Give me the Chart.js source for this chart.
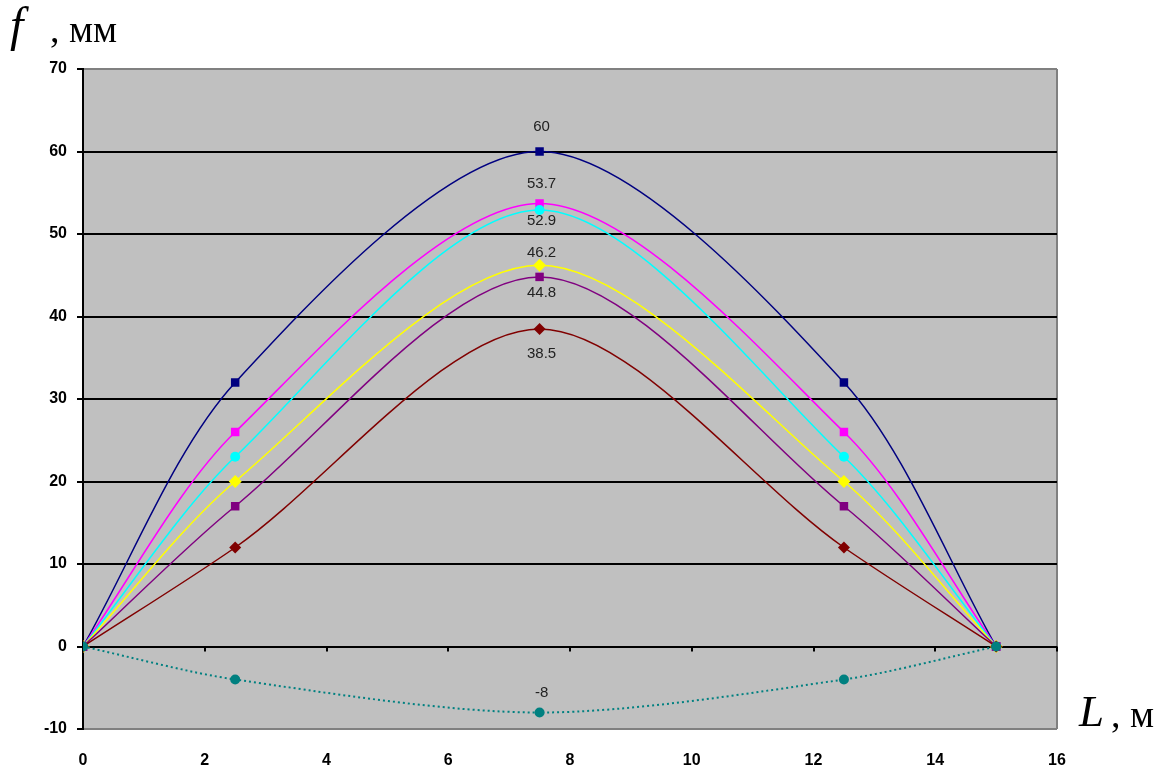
<!DOCTYPE html>
<html>
<head>
<meta charset="utf-8">
<script src="https://cdn.jsdelivr.net/npm/chart.js@4.4.0/dist/chart.umd.min.js"></script>
<style>
    body { margin: 0; background: #fff; }
    #wrap { position: relative; width: 1163px; height: 769px; }
    .axis-title { position: absolute; font-family: "Liberation Serif", "Times New Roman", serif; line-height: 1; color: #000; white-space: nowrap; }
</style>
</head>
<body>
<div id="wrap">
    <canvas id="chart" width="1163" height="769"></canvas>
    <div class="axis-title" style="left:10px; top:1px; font-size:48px;"><i>f</i></div>
    <div class="axis-title" style="left:50px; top:10px; font-size:38px;">, мм</div>
    <div class="axis-title" style="left:1079px; top:689px; font-size:45px;"><i>L</i></div>
    <div class="axis-title" style="left:1111px; top:695px; font-size:38px;">, м</div>
</div>
<script>
/**
 * Прогибы f (мм) по длине пролёта L (м)
 */

// Точки по длине пролёта, м
const spanL = [0, 2.5, 7.5, 12.5, 15];

// Прогибы для каждой кривой, мм
const fNavy    = [0, 32, 60, 32, 0];
const fMagenta = [0, 26, 53.7, 26, 0];
const fCyan    = [0, 23, 52.9, 23, 0];
const fYellow  = [0, 20, 46.2, 20, 0];
const fPurple  = [0, 17, 44.8, 17, 0];
const fRed     = [0, 12, 38.5, 12, 0];
const fTeal    = [0, -4, -8, -4, 0];

// Подписи осей (деления)
const yTicks = [-10, 0, 10, 20, 30, 40, 50, 60, 70];
const xTicks = [0, 2, 4, 6, 8, 10, 12, 14, 16];

// Превращает массив прогибов в точки {x, y}
function toPoints(values) {
    return values.map((v, i) => ({ x: spanL[i], y: v }));
}

// Описание одной кривой
function makeSeries(values, color, style, radius, labelDy, dashed) {
    return {
        data: toPoints(values),
        borderColor: color,
        backgroundColor: color,
        borderWidth: dashed ? 2 : 1.5,
        borderDash: dashed ? [2, 3] : [],
        pointStyle: style,
        pointRadius: radius,
        pointBorderWidth: 0,
        tension: 0.3,
        labelDy: labelDy
    };
}

// Серый фон области построения
const plotBackground = {
    id: 'plotBackground',
    beforeDraw(chart) {
        const a = chart.chartArea;
        const ctx = chart.ctx;
        ctx.save();
        ctx.fillStyle = '#c0c0c0';
        ctx.fillRect(a.left, a.top, a.right - a.left, a.bottom - a.top);
        ctx.restore();
    }
};

// Засечки на оси X (линия нуля)
const zeroTicks = {
    id: 'zeroTicks',
    beforeDatasetsDraw(chart) {
        const xs = chart.scales.x;
        const y0 = chart.scales.y.getPixelForValue(0);
        const ctx = chart.ctx;
        ctx.save();
        ctx.strokeStyle = '#000';
        ctx.lineWidth = 2;
        xTicks.forEach(function(v) {
            const px = Math.round(xs.getPixelForValue(v));
            ctx.beginPath();
            ctx.moveTo(px, y0);
            ctx.lineTo(px, y0 + 5);
            ctx.stroke();
        });
        ctx.restore();
    }
};

// Подписи значений в середине пролёта
const peakLabels = {
    id: 'peakLabels',
    afterDatasetsDraw(chart) {
        const ctx = chart.ctx;
        ctx.save();
        ctx.font = '15px "Liberation Sans", Arial, sans-serif';
        ctx.fillStyle = '#222';
        ctx.textAlign = 'center';
        ctx.textBaseline = 'middle';
        chart.data.datasets.forEach(function(ds, i) {
            const el = chart.getDatasetMeta(i).data[2];
            ctx.fillText(String(ds.data[2].y), el.x + 2, el.y + ds.labelDy);
        });
        ctx.restore();
    }
};

const tickFont = { family: '"Liberation Sans", Arial, sans-serif', size: 16, weight: 'bold' };

new Chart(document.getElementById('chart'), {
    type: 'line',
    data: {
        datasets: [
            makeSeries(fTeal,    '#008080', 'circle', 5, -20, true),
            makeSeries(fRed,     '#800000', 'rectRot', 6, 25, false),
            makeSeries(fPurple,  '#800080', 'rect', 6, 16, false),
            makeSeries(fYellow,  '#ffff00', 'rectRot', 6.5, -12, false),
            makeSeries(fCyan,    '#00ffff', 'circle', 5, 11, false),
            makeSeries(fMagenta, '#ff00ff', 'rect', 6, -20, false),
            makeSeries(fNavy,    '#000080', 'rect', 6, -25, false)
        ]
    },
    options: {
        responsive: false,
        animation: false,
        events: [],
        layout: { padding: { top: 69, right: 106, left: 0, bottom: 0 } },
        plugins: {
            legend: { display: false },
            tooltip: { enabled: false }
        },
        scales: {
            x: {
                type: 'linear',
                min: 0,
                max: 16,
                afterFit: function(scale) { scale.height = 40; },
                afterBuildTicks: function(scale) { scale.ticks = xTicks.map(v => ({ value: v })); },
                border: { display: false },
                grid: {
                    drawTicks: false,
                    lineWidth: 2,
                    color: ctx => (ctx.tick && ctx.tick.value === 16) ? '#808080' : 'rgba(0,0,0,0)'
                },
                ticks: { font: tickFont, color: '#000', padding: 22, maxRotation: 0 }
            },
            y: {
                min: -10,
                max: 70,
                afterFit: function(scale) { scale.width = 83; },
                afterBuildTicks: function(scale) { scale.ticks = yTicks.map(v => ({ value: v })); },
                border: { display: true, color: '#000', width: 2 },
                grid: {
                    lineWidth: 2,
                    tickLength: 6,
                    tickColor: '#000',
                    color: ctx => (ctx.tick && (ctx.tick.value === 70 || ctx.tick.value === -10)) ? '#808080' : '#000'
                },
                ticks: { font: tickFont, color: '#000', padding: 10 }
            }
        }
    },
    plugins: [plotBackground, zeroTicks, peakLabels]
});
</script>
</body>
</html>
